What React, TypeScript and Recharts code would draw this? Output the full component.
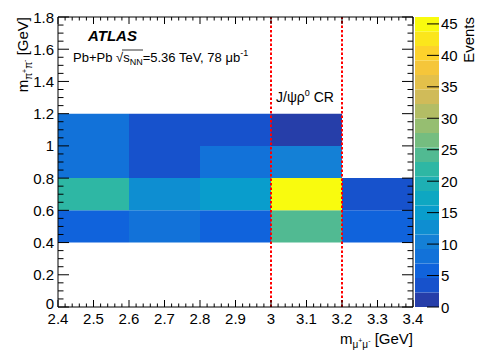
import React from 'react';
import { ComposedChart, XAxis, YAxis, ReferenceArea, ReferenceLine, Scatter } from 'recharts';

// ---- data ----
const xEdges = [2.4, 2.6, 2.8, 3.0, 3.2, 3.4];
const yEdges = [0.4, 0.6, 0.8, 1.0, 1.2];
const countsY04to06 = [6, 8, 6, 24, 6];
const countsY06to08 = [22, 13, 15, 46, 4];
const countsY08to10 = [8, 4, 8, 10, 0];
const countsY10to12 = [8, 4, 4, 2, 0];
const rows = [countsY04to06, countsY06to08, countsY08to10, countsY10to12];
const xMajorTicks = [2.4, 2.5, 2.6, 2.7, 2.8, 2.9, 3.0, 3.1, 3.2, 3.3, 3.4];
const yMajorTicks = [0, 0.2, 0.4, 0.6, 0.8, 1.0, 1.2, 1.4, 1.6, 1.8];
const zTicks = [0, 5, 10, 15, 20, 25, 30, 35, 40, 45];
const crBoundaries = [3.0, 3.2];
const Z_MAX = 46.1;
const N_LEVELS = 20;

// ---- palette (ROOT kBird) ----
const pStops = [0.0, 0.125, 0.25, 0.375, 0.5, 0.625, 0.75, 0.875, 1.0];
const pR = [0.2082, 0.0592, 0.078, 0.0232, 0.1802, 0.5301, 0.8186, 0.9956, 0.9764];
const pG = [0.1664, 0.3599, 0.5041, 0.6419, 0.7178, 0.7492, 0.7328, 0.7862, 0.9832];
const pB = [0.5293, 0.8684, 0.8385, 0.7914, 0.6425, 0.4662, 0.3499, 0.1968, 0.0539];
function bird(f: number): string {
  const ff = Math.max(0, Math.min(1, f));
  let i = 0;
  while (i < pStops.length - 2 && ff > pStops[i + 1]) i++;
  const t = (ff - pStops[i]) / (pStops[i + 1] - pStops[i]);
  const c = (a: number[]) => Math.round(255 * (a[i] + (a[i + 1] - a[i]) * t));
  return `rgb(${c(pR)},${c(pG)},${c(pB)})`;
}
const levelColor = (i: number) => bird((i + 0.99) / N_LEVELS);
const cellColor = (v: number) => levelColor(Math.min(N_LEVELS - 1, Math.floor(v / (Z_MAX / N_LEVELS))));

// cells table built from the arrays above
const cellTable: { x1: number; x2: number; y1: number; y2: number; xc: number; yc: number; v: number }[] = [];
rows.forEach((row, r) => {
  row.forEach((v, c) => {
    if (v <= 0) return;
    cellTable.push({
      x1: xEdges[c],
      x2: xEdges[c + 1],
      y1: yEdges[r],
      y2: yEdges[r + 1],
      xc: (xEdges[c] + xEdges[c + 1]) / 2,
      yc: (yEdges[r] + yEdges[r + 1]) / 2,
      v,
    });
  });
});
const levels = Array.from({ length: N_LEVELS }, (_, i) => i);
const levelTable = levels.map((i) => ({ xc: 0.5, yc: ((i + 0.5) * Z_MAX) / N_LEVELS }));

// ---- ticks ----
const xAllTicks: number[] = [];
for (let i = 0; i <= 50; i++) xAllTicks.push(Math.round((2.4 + i * 0.02) * 1000) / 1000);
const yAllTicks: number[] = [];
for (let i = 0; i <= 36; i++) yAllTicks.push(Math.round(i * 0.05 * 1000) / 1000);
const isMajorX = (v: number) => xMajorTicks.some((m) => Math.abs(m - v) < 1e-6);
const isMajorY = (v: number) => yMajorTicks.some((m) => Math.abs(m - v) < 1e-6);
const fmt = (v: number) => String(Math.round(v * 10) / 10);

const FONT = '"Liberation Sans", Arial, Helvetica, sans-serif';

const BottomTick = (p: any) => {
  const { x, y, payload } = p;
  const major = isMajorX(payload.value);
  return (
    <g>
      <line x1={x} x2={x} y1={y} y2={y - (major ? 7 : 3.5)} stroke="#000" />
      {major && (
        <text x={x} y={y + 17} textAnchor="middle" fontSize={15} fontFamily={FONT} fill="#000">
          {fmt(payload.value)}
        </text>
      )}
    </g>
  );
};
const TopTick = (p: any) => {
  const { x, y, payload } = p;
  const major = isMajorX(payload.value);
  return <line x1={x} x2={x} y1={y} y2={y + (major ? 7 : 3.5)} stroke="#000" />;
};
const LeftTick = (p: any) => {
  const { x, y, payload } = p;
  const major = isMajorY(payload.value);
  const isZero = Math.abs(payload.value) < 1e-9;
  return (
    <g>
      <line x1={x} x2={x + (major ? 11 : 5.5)} y1={y} y2={y} stroke="#000" />
      {major && (
        <text x={x - 4} y={y + (isZero ? 2 : 5.5)} textAnchor="end" fontSize={15} fontFamily={FONT} fill="#000">
          {fmt(payload.value)}
        </text>
      )}
    </g>
  );
};
const RightTick = (p: any) => {
  const { x, y, payload } = p;
  const major = isMajorY(payload.value);
  return <line x1={x} x2={x - (major ? 11 : 5.5)} y1={y} y2={y} stroke="#000" />;
};
const ZTick = (p: any) => {
  const { x, y, payload } = p;
  return (
    <g>
      <line x1={x - 12} x2={x} y1={y} y2={y} stroke="#000" />
      <text x={x + 2} y={y + 5.5} textAnchor="start" fontSize={15} fontFamily={FONT} fill="#000">
        {payload.value}
      </text>
    </g>
  );
};
const NoShape = () => <g />;

const axisCommon = {
  type: 'number' as const,
  allowDataOverflow: true,
  interval: 0 as const,
  tickSize: 0,
  tickMargin: 0,
  tickLine: false,
};

export default function App() {
  return (
    <div style={{ position: 'absolute', left: 0, top: 0, width: 488, height: 352, background: '#fff' }}>
      <div style={{ position: 'absolute', left: 0, top: 0 }}>
        <ComposedChart width={488} height={352} data={cellTable} margin={{ top: 16, right: 74, bottom: 44, left: 57 }}>
          <XAxis {...axisCommon} xAxisId="b" dataKey="xc" domain={[2.4, 3.4]} ticks={xAllTicks} height={1}
            axisLine={{ stroke: '#000' }} tick={<BottomTick />} />
          <XAxis {...axisCommon} xAxisId="t" orientation="top" dataKey="xc" domain={[2.4, 3.4]} ticks={xAllTicks} height={1}
            axisLine={{ stroke: '#000' }} tick={<TopTick />} />
          <YAxis {...axisCommon} yAxisId="l" dataKey="yc" domain={[0, 1.8]} ticks={yAllTicks} width={1}
            axisLine={{ stroke: '#000' }} tick={<LeftTick />} />
          <YAxis {...axisCommon} yAxisId="r" orientation="right" dataKey="yc" domain={[0, 1.8]} ticks={yAllTicks} width={1}
            axisLine={{ stroke: '#000' }} tick={<RightTick />} />
          <Scatter xAxisId="b" yAxisId="l" dataKey="yc" shape={<NoShape />} isAnimationActive={false} />
          {cellTable.map((c, k) => (
            <ReferenceArea
              key={`c${k}`}
              xAxisId="b"
              yAxisId="l"
              x1={c.x1}
              x2={c.x2}
              y1={c.y1}
              y2={c.y2}
              fill={cellColor(c.v)}
              fillOpacity={1}
              stroke="none"
            />
          ))}
          {crBoundaries.map((b) => (
            <ReferenceLine
              key={`cr${b}`}
              x={b}
              xAxisId="b"
              yAxisId="l"
              stroke="#ff0000"
              strokeWidth={2}
              strokeDasharray="2.5 2"
            />
          ))}
        </ComposedChart>
      </div>
      <div style={{ position: 'absolute', left: 0, top: 0 }}>
        <ComposedChart width={488} height={352} data={levelTable} margin={{ top: 17, right: 48, bottom: 45, left: 415 }}>
          <XAxis xAxisId="z" dataKey="xc" type="number" domain={[0, 1]} allowDataOverflow hide />
          <YAxis {...axisCommon} yAxisId="z" orientation="right" dataKey="yc" domain={[0, Z_MAX]} ticks={zTicks}
            width={1} axisLine={false} tick={<ZTick />} />
          <Scatter xAxisId="z" yAxisId="z" dataKey="yc" shape={<NoShape />} isAnimationActive={false} />
          {levels.map((i) => (
            <ReferenceArea
              key={`z${i}`}
              xAxisId="z"
              yAxisId="z"
              x1={0}
              x2={1}
              y1={(i * Z_MAX) / N_LEVELS}
              y2={((i + 1) * Z_MAX) / N_LEVELS}
              fill={levelColor(i)}
              fillOpacity={1}
              stroke="none"
            />
          ))}
        </ComposedChart>
      </div>
      <svg
        width={488}
        height={352}
        style={{ position: 'absolute', left: 0, top: 0, pointerEvents: 'none' }}
        fontFamily={FONT}
      >
        <text x={88} y={41} fontSize={15} fontWeight="bold" fontStyle="italic" fill="#000">
          ATLAS
        </text>
        <text x={73} y={62} fontSize={13} fill="#000">
          Pb+Pb √
          <tspan>s</tspan>
          <tspan fontSize={9} dy={3}>NN</tspan>
          <tspan dy={-3}>=5.36 TeV, 78 μb</tspan>
          <tspan fontSize={9} dy={-6}>-1</tspan>
        </text>
        <line x1={122} x2={143} y1={50} y2={50} stroke="#000" strokeWidth={0.8} />
        <text x={276} y={102} fontSize={14} fill="#000">
          J/ψρ<tspan fontSize={9} dy={-6}>0</tspan>
          <tspan dy={6}> CR</tspan>
        </text>
        <text x={413} y={344} textAnchor="end" fontSize={15} fill="#000">
          m<tspan fontSize={10} dy={4}>μ</tspan>
          <tspan fontSize={7} dy={-5}>+</tspan>
          <tspan fontSize={10} dy={5}>μ</tspan>
          <tspan fontSize={7} dy={-5}>-</tspan>
          <tspan fontSize={15} dy={1}> [GeV]</tspan>
        </text>
        <text transform="translate(28,17) rotate(-90)" textAnchor="end" fontSize={15} fill="#000">
          m<tspan fontSize={10} dy={4}>π</tspan>
          <tspan fontSize={7} dy={-5}>+</tspan>
          <tspan fontSize={10} dy={5}>π</tspan>
          <tspan fontSize={7} dy={-5}>-</tspan>
          <tspan fontSize={15} dy={1}> [GeV]</tspan>
        </text>
        <text transform="translate(474,17) rotate(-90)" textAnchor="end" fontSize={15} fill="#000">
          Events
        </text>
      </svg>
    </div>
  );
}
